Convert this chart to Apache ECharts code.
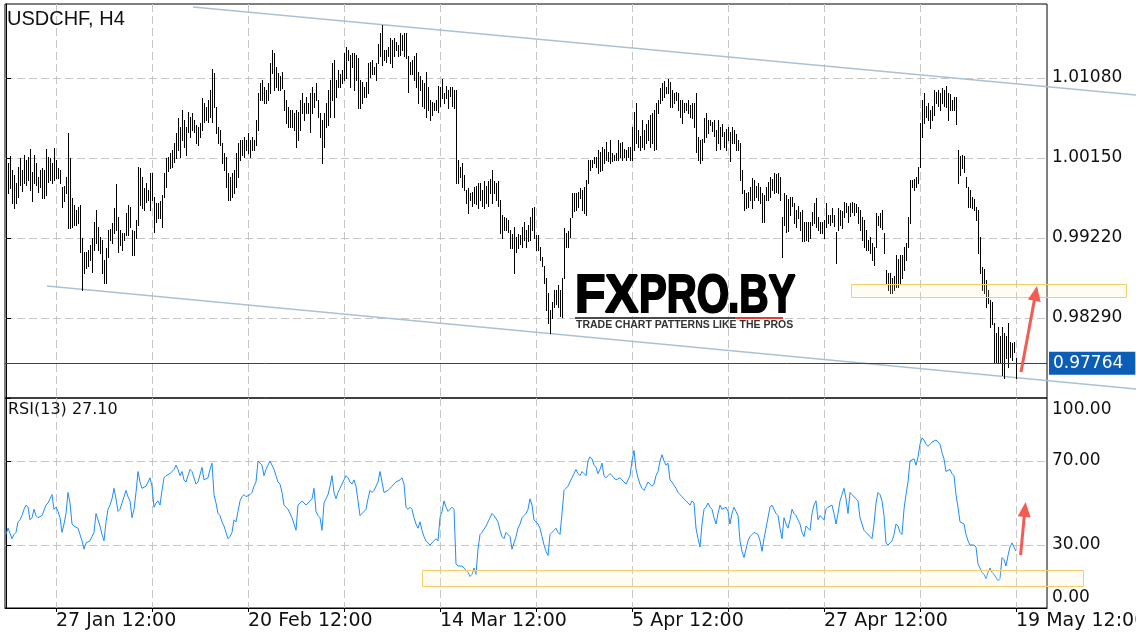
<!DOCTYPE html>
<html><head><meta charset="utf-8">
<script src="https://cdn.jsdelivr.net/npm/echarts@6/dist/echarts.min.js"></script>
<style>html,body{margin:0;padding:0;background:#fff}#c{width:1136px;height:640px}</style>
</head><body><div id="c"></div>
<script>
// ---------- data ----------
const symbolName = 'USDCHF, H4';
const rsiPeriod = 13;
// H4 bar highs / lows in pips (price * 10000)
const highPips = [
10007,10009,10017,10001,9995,9986,10005,10015,10001,10018,
10013,10016,10025,9999,10018,10009,9993,10001,10003,10001,
10025,10016,10015,10009,10027,10013,10003,10001,9981,9983,
9993,10044,10015,9968,9960,9955,9958,9960,9922,9906,
9906,9908,9914,9922,9941,9955,9935,9923,9920,9896,
9910,9931,9932,9939,9957,9985,9946,9931,9928,9928,
9951,9960,9958,9931,9930,9943,10005,10003,9993,9980,
9986,9978,9998,9998,9970,9963,9963,9965,9972,9998,
10015,10016,10021,10024,10032,10044,10061,10051,10071,10059,
10051,10068,10063,10067,10059,10053,10051,10056,10085,10079,
10074,10082,10094,10118,10114,10074,10051,10048,10032,10021,
10016,9998,9993,9998,10001,10021,10032,10036,10036,10039,
10036,10044,10036,10039,10036,10059,10091,10102,10106,10098,
10094,10102,10125,10141,10137,10121,10114,10110,10115,10094,
10082,10074,10071,10071,10067,10071,10068,10082,10091,10079,
10086,10079,10091,10098,10091,10102,10082,10067,10059,10067,
10079,10094,10106,10125,10129,10106,10117,10113,10117,10137,
10144,10141,10135,10137,10137,10135,10131,10106,10103,10098,
10103,10125,10127,10129,10121,10125,10148,10160,10170,10141,
10140,10144,10154,10152,10154,10150,10146,10160,10158,10160,
10160,10133,10127,10129,10133,10137,10115,10110,10106,10102,
10115,10098,10082,10080,10079,10082,10099,10098,10107,10091,
10099,10094,10098,10097,10094,10094,10013,10005,10009,9995,
9978,9980,9974,9975,9981,9983,9986,9986,9978,9988,
9983,9988,9990,10001,9988,9986,9988,9966,9949,9946,
9945,9943,9931,9927,9935,9923,9927,9925,9935,9941,
9931,9937,9946,9957,9958,9925,9925,9912,9900,9890,
9876,9858,9838,9848,9862,9862,9867,9862,9875,9934,
9928,9930,9945,9974,9974,9974,9975,9980,9978,9981,
9989,10013,10013,10013,10016,10016,10024,10022,10028,10026,
10034,10022,10036,10021,10019,10021,10036,10032,10034,10026,
10024,10028,10028,10051,10068,10079,10047,10041,10059,10047,
10055,10059,10065,10067,10071,10079,10082,10096,10102,10104,
10098,10107,10103,10094,10090,10092,10090,10082,10082,10079,
10079,10082,10077,10079,10079,10091,10039,10036,10037,10061,
10067,10059,10059,10057,10059,10047,10059,10051,10055,10045,
10049,10051,10045,10051,10047,10043,10036,10032,10001,9978,
9974,9975,9981,9992,9989,9983,9986,9981,9974,9972,
9981,9987,9993,9991,9998,9996,9998,9993,9946,9974,
9972,9967,9970,9970,9963,9955,9959,9952,9955,9941,
9941,9941,9941,9952,9963,9969,9946,9941,9941,9943,
9963,9949,9949,9957,9949,9929,9957,9955,9953,9964,
9963,9959,9963,9964,9963,9961,9958,9955,9946,9943,
9931,9920,9923,9916,9912,9951,9947,9951,9955,9928,
9885,9881,9881,9875,9878,9902,9897,9902,9902,9912,
9916,9946,9989,9989,9991,9993,10005,10056,10082,10091,
10075,10079,10071,10075,10094,10092,10094,10090,10096,10094,
10099,10091,10089,10082,10086,10086,10024,10017,10019,10017,
9993,9981,9978,9970,9967,9958,9955,9923,9888,9886,
9873,9862,9850,9848,9823,9812,9819,9808,9819,9812,
9808,9823,9801,9800,9801,9782];
const lowPips = [
9974,9974,9980,9963,9957,9963,9970,9984,9977,9986,
9984,9989,9978,9965,9986,9984,9976,9981,9968,9969,
9972,9987,9989,9986,9989,9992,9992,9986,9958,9965,
9974,9934,9934,9935,9937,9937,9940,9906,9862,9881,
9887,9889,9896,9882,9908,9916,9908,9905,9881,9870,
9870,9900,9920,9916,9928,9931,9906,9914,9908,9920,
9926,9926,9935,9902,9902,9922,9937,9960,9957,9955,
9964,9966,9955,9966,9929,9941,9945,9945,9935,9970,
9981,10000,10003,10005,10010,10015,10024,10016,10036,10028,
10019,10045,10039,10048,10045,10032,10030,10039,10048,10057,
10059,10057,10063,10057,10074,10044,10032,10030,10009,10001,
9981,9966,9966,9970,9974,9981,9993,10013,10019,10016,
10024,10021,10016,10024,10024,10030,10048,10082,10082,10079,
10079,10082,10091,10114,10094,10098,10094,10094,10096,10071,
10056,10051,10051,10051,10048,10028,10036,10048,10067,10059,
10067,10067,10045,10067,10074,10082,10063,10039,10009,10028,
10051,10053,10063,10082,10063,10086,10098,10098,10102,10106,
10108,10129,10098,10121,10094,10106,10073,10073,10079,10086,
10086,10091,10109,10113,10113,10106,10125,10133,10123,10129,
10127,10133,10125,10121,10133,10141,10133,10135,10141,10133,
10131,10092,10113,10113,10106,10098,10079,10094,10075,10073,
10063,10071,10059,10065,10071,10071,10069,10075,10085,10079,
10085,10073,10087,10075,10073,9986,9986,9993,9981,9978,
9963,9951,9966,9959,9963,9961,9957,9966,9959,9957,
9963,9959,9974,9963,9974,9966,9959,9928,9922,9931,
9931,9929,9910,9910,9881,9906,9910,9915,9912,9920,
9912,9918,9920,9931,9922,9908,9908,9896,9889,9870,
9838,9823,9812,9829,9842,9845,9842,9831,9830,9875,
9912,9912,9923,9946,9953,9955,9958,9968,9955,9951,
9949,9986,10001,10005,10009,10005,9998,10000,10001,10009,
10013,10011,10009,10011,10013,10013,10013,10016,10013,10016,
10013,10016,10013,10013,10024,10032,10028,10024,10028,10026,
10032,10036,10028,10032,10024,10026,10067,10079,10082,10086,
10091,10091,10074,10074,10079,10082,10071,10063,10056,10069,
10071,10067,10063,10061,10051,10022,10013,10009,10013,10034,
10039,10044,10053,10046,10041,10024,10032,10026,10041,10028,
10024,10036,10011,10032,10032,10024,10024,9989,9974,9955,
9957,9958,9966,9957,9966,9970,9966,9963,9941,9941,
9966,9966,9970,9978,9974,9976,9974,9966,9900,9937,
9929,9930,9949,9959,9939,9935,9945,9931,9918,9918,
9920,9918,9922,9937,9939,9935,9931,9928,9928,9922,
9935,9939,9937,9941,9936,9893,9931,9937,9934,9946,
9952,9941,9947,9952,9949,9952,9939,9931,9920,9912,
9908,9908,9905,9896,9891,9912,9937,9935,9932,9905,
9870,9862,9858,9858,9862,9865,9865,9868,9876,9885,
9896,9912,9939,9981,9978,9981,9986,10005,10039,10056,
10063,10059,10050,10059,10065,10079,10075,10071,10079,10075,
10074,10059,10071,10071,10071,10054,9986,9995,10003,9999,
9981,9958,9958,9957,9955,9943,9905,9881,9862,9858,
9842,9846,9819,9822,9777,9777,9777,9777,9763,9759,
9782,9772,9784,9780,9789,9759];
// RSI(13) per bar
const rsiValues = [
35,38,38,33,35,36,41,42,44,47,
49,48,42,43,47,44,43,43,44,44,
49,50,50,54,47,48,46,43,36,40,
45,55,50,40,39,39,38,35,32,28,
31,31,32,34,36,45,42,39,35,32,
41,47,49,52,57,52,46,47,50,53,
56,53,51,43,47,55,65,60,57,57,
58,60,62,58,48,50,51,49,56,62,
63,63,64,65,66,68,66,63,65,61,
60,63,66,65,62,59,60,60,67,61,
61,62,66,69,54,50,45,44,41,39,
36,33,34,36,42,41,46,51,53,54,
53,53,54,55,58,60,70,69,68,63,
66,68,70,68,66,63,60,59,55,49,
48,47,47,43,40,37,49,50,51,51,
49,50,51,52,57,46,44,43,37,50,
52,54,58,63,55,52,55,57,59,61,
63,62,60,59,61,58,51,44,45,46,
47,52,56,55,56,58,60,65,60,55,
55,56,57,58,59,60,60,61,62,59,
48,47,48,47,43,40,38,41,37,34,
32,31,30,31,32,33,32,43,46,51,
48,46,47,48,47,21,20,20,20,19,
18,17,15,16,19,16,28,35,36,36,
39,41,43,45,44,44,41,37,34,33,
36,35,34,28,31,34,38,40,43,44,
45,47,52,49,42,41,40,38,34,30,
27,25,35,36,37,38,36,35,45,56,
57,58,60,62,64,66,64,63,65,64,
63,70,72,71,68,67,64,66,69,63,
62,63,64,63,62,61,61,62,61,60,
59,61,63,70,75,66,62,59,57,56,
58,60,59,58,59,63,65,70,73,70,
68,69,61,60,60,57,55,54,53,52,
51,50,49,51,50,38,33,29,40,47,
48,50,48,47,43,40,45,49,47,47,
48,46,40,45,48,46,44,32,27,24,
28,32,34,35,36,36,35,32,27,33,
38,43,48,49,47,45,44,38,33,43,
40,38,42,47,45,44,44,40,36,34,
39,38,37,45,49,51,42,44,43,42,
47,48,48,49,45,40,45,51,54,57,
52,45,55,54,54,52,51,43,43,37,
36,36,34,33,40,50,55,54,51,44,
31,30,30,32,35,40,39,36,35,47,
54,60,70,70,71,68,72,78,81,80,
78,77,77,79,79,80,79,78,74,71,
65,65,66,64,63,54,48,41,41,40,
35,32,30,30,30,29,21,19,17,16,
14,17,19,17,16,16,13,14,24,23,
20,25,29,31,29,27.1];
const lastPrice = 0.97764;
// axes
const priceTicks = [0.98290, 0.99220, 1.00150, 1.01080];
const gridBars = [25, 73, 121, 169, 217, 265, 313, 361, 409, 457, 505];
const labelBars = [25, 121, 217, 313, 409, 505];
const timeLabels = ['27 Jan 12:00', '20 Feb 12:00', '14 Mar 12:00', '5 Apr 12:00', '27 Apr 12:00', '19 May 12:00'];
const rsiTicks = [0, 30, 70, 100];
const rsiLabelAt = [5.2, 30, 70, 94.3];
const rsiTickLabels = ['0.00', '30.00', '70.00', '100.00'];
// annotations in data coordinates [barIndex, value, barIndex, value]
const upperChannel = [93.5, 1.01905, 565, 1.00882];
const lowerChannel = [20.5, 0.98662, 565, 0.97465];
const priceZone = [422.5, 0.98685, 560, 0.98534];
const rsiZone = [208, 18.1, 538.5, 10.5];
const priceArrow = [507.5, 0.97662, 515.5, 0.98662];
const rsiArrow = [507.3, 25.2, 509.8, 50.5];

// ---------- chart ----------
const chart = echarts.init(document.getElementById('c'), null, {renderer: 'canvas'});
const bars = highPips.map((h, i) => [i, h / 10000, lowPips[i] / 10000]);
const rsiData = rsiValues.map((v, i) => [i, v]);
const gridLine = {show: true, lineStyle: {color: '#c6c6c6', width: 1, type: [8, 4]}};
const FONT = 'DejaVu Sans';

function barItem(params, api) {
  const t = api.coord([api.value(0), api.value(1)]);
  const b = api.coord([api.value(0), api.value(2)]);
  const x = Math.round(t[0]) + 0.5;
  return {type: 'line', shape: {x1: x, y1: Math.round(t[1]), x2: x, y2: Math.round(b[1]) + 1}, style: {stroke: '#000', lineWidth: 1}};
}
function segItem(params, api) {
  const a = api.coord([api.value(0), api.value(1)]);
  const b = api.coord([api.value(2), api.value(3)]);
  return {type: 'line', shape: {x1: a[0], y1: a[1], x2: b[0], y2: b[1]}, style: {stroke: '#a9c2d3', lineWidth: 1.5}};
}
function boxItem(params, api) {
  const a = api.coord([api.value(0), api.value(1)]);
  const b = api.coord([api.value(2), api.value(3)]);
  return {type: 'rect', shape: {x: Math.round(Math.min(a[0], b[0])) + 0.5, y: Math.round(Math.min(a[1], b[1])) + 0.5,
    width: Math.round(Math.abs(b[0] - a[0])), height: Math.round(Math.abs(b[1] - a[1]))},
    style: {fill: 'rgba(255,240,190,0.18)', stroke: '#f5cf6c', lineWidth: 1}};
}
function arrowItem(params, api) {
  const a = api.coord([api.value(0), api.value(1)]);
  const b = api.coord([api.value(2), api.value(3)]);
  const dx = b[0] - a[0], dy = b[1] - a[1], len = Math.hypot(dx, dy);
  const ux = dx / len, uy = dy / len, hl = 15, hw = 6.5;
  const base = [b[0] - ux * hl, b[1] - uy * hl];
  return {type: 'group', children: [
    {type: 'line', shape: {x1: a[0], y1: a[1], x2: base[0] + ux * 2, y2: base[1] + uy * 2}, style: {stroke: '#f45b52', lineWidth: 3, lineCap: 'butt'}},
    {type: 'polygon', shape: {points: [b, [base[0] - uy * hw, base[1] + ux * hw], [base[0] + uy * hw, base[1] - ux * hw]]}, style: {fill: '#f45b52'}}
  ]};
}

const darkGrad = () => new echarts.graphic.LinearGradient(0, 0, 0, 1, [
  {offset: 0, color: '#161616'}, {offset: 0.5, color: '#262626'}, {offset: 0.6, color: '#7c7c7c'}, {offset: 1, color: '#383838'}]);
const redGrad = () => new echarts.graphic.LinearGradient(0, 0, 0, 1, [
  {offset: 0, color: '#e3161c'}, {offset: 0.5, color: '#e8262a'}, {offset: 0.6, color: '#f58a8a'}, {offset: 1, color: '#e44848'}]);
function logoText(text, x, sx, grad) {
  return {type: 'text', x: x, y: 297.5, scaleX: sx, z: 10, silent: true,
    style: {text: text, fill: grad(), stroke: grad(), lineWidth: 2.2, fontSize: 54, fontWeight: 'bold', fontFamily: 'Liberation Sans',
      verticalAlign: 'middle', align: 'left'}};
}

const option = {
  animation: false,
  backgroundColor: '#fff',
  textStyle: {fontFamily: FONT},
  title: [
    {text: symbolName, left: 7, top: 9, padding: 0, textStyle: {fontFamily: 'Liberation Sans', fontSize: 20, fontWeight: 'normal', color: '#111'}},
    {text: 'RSI(' + rsiPeriod + ') ' + rsiValues[rsiValues.length - 1].toFixed(2), left: 8, top: 402, padding: 0,
      textStyle: {fontFamily: FONT, fontSize: 16, fontWeight: 'normal', color: '#111'}}
  ],
  grid: [
    {left: 5, right: 89, top: 4, height: 394, show: true, borderColor: '#000', borderWidth: 1, backgroundColor: 'transparent', containLabel: false, outerBoundsMode: 'none'},
    {left: 5, right: 89, top: 398, height: 210, show: true, borderColor: '#000', borderWidth: 1, backgroundColor: 'transparent', containLabel: false, outerBoundsMode: 'none'}
  ],
  xAxis: [
    {type: 'value', gridIndex: 0, min: -0.5, max: 520.5, axisLine: {show: false}, axisLabel: {show: false},
      axisTick: {show: false, customValues: gridBars}, splitLine: gridLine},
    {type: 'value', gridIndex: 1, min: -0.5, max: 520.5, axisLine: {show: true, lineStyle: {color: '#000'}},
      axisTick: {show: true, customValues: gridBars, length: 4, lineStyle: {color: '#000'}},
      axisLabel: {customValues: labelBars, formatter: v => timeLabels[labelBars.indexOf(v)], align: 'left', margin: 4,
        fontSize: 19, color: '#111', fontFamily: FONT},
      splitLine: gridLine}
  ],
  yAxis: [
    {type: 'value', gridIndex: 0, position: 'right', min: 0.9736, max: 1.0194,
      axisLine: {show: true, lineStyle: {color: '#000'}},
      axisTick: {show: true, customValues: priceTicks, length: 5, lineStyle: {color: '#000'}},
      axisLabel: {customValues: priceTicks, formatter: v => v.toFixed(5), fontSize: 17, color: '#111', margin: 5, fontFamily: FONT},
      splitLine: gridLine},
    {type: 'value', gridIndex: 1, position: 'right', min: 0, max: 100,
      axisLine: {show: true, lineStyle: {color: '#000'}},
      axisTick: {show: true, customValues: rsiTicks, length: 5, lineStyle: {color: '#000'}},
      axisLabel: {customValues: rsiLabelAt, formatter: v => rsiTickLabels[rsiLabelAt.indexOf(v)], fontSize: 17, color: '#111', margin: 5, fontFamily: FONT},
      splitLine: Object.assign({showMinLine: false, showMaxLine: false}, gridLine)}
  ],
  series: [
    {type: 'custom', name: 'channel', xAxisIndex: 0, yAxisIndex: 0, data: [upperChannel, lowerChannel], renderItem: segItem, clip: false, silent: true, z: 2,
      encode: {x: [0, 2], y: [1, 3]}},
    {type: 'custom', name: 'bars', xAxisIndex: 0, yAxisIndex: 0, data: bars, renderItem: barItem, encode: {x: 0, y: [1, 2]}, silent: true, clip: true, z: 3},
    {type: 'line', name: 'last', xAxisIndex: 0, yAxisIndex: 0, data: [[505, lastPrice]], symbol: 'none', silent: true, z: 2,
      lineStyle: {opacity: 0},
      markLine: {silent: true, symbol: 'none', animation: false, precision: 5,
        data: [{yAxis: lastPrice, lineStyle: {color: '#1a4a86', width: 1, type: 'solid'},
          label: {show: true, position: 'end', distance: 2, formatter: lastPrice.toFixed(5), color: '#fff', backgroundColor: '#0b5db5',
            padding: [3, 12, 3, 4], fontSize: 17, fontFamily: FONT}}]}},
    {type: 'custom', name: 'zone', xAxisIndex: 0, yAxisIndex: 0, data: [priceZone], renderItem: boxItem, clip: false, silent: true, z: 4,
      encode: {x: [0, 2], y: [1, 3]}},
    {type: 'custom', name: 'arrow', xAxisIndex: 0, yAxisIndex: 0, data: [priceArrow], renderItem: arrowItem, clip: false, silent: true, z: 5,
      encode: {x: [0, 2], y: [1, 3]}},
    {type: 'line', name: 'rsi', xAxisIndex: 1, yAxisIndex: 1, data: rsiData, symbol: 'none', silent: true, z: 3,
      lineStyle: {color: '#1e8cff', width: 1}},
    {type: 'custom', name: 'rsiZone', xAxisIndex: 1, yAxisIndex: 1, data: [rsiZone], renderItem: boxItem, clip: false, silent: true, z: 4,
      encode: {x: [0, 2], y: [1, 3]}},
    {type: 'custom', name: 'rsiArrow', xAxisIndex: 1, yAxisIndex: 1, data: [rsiArrow], renderItem: arrowItem, clip: false, silent: true, z: 5,
      encode: {x: [0, 2], y: [1, 3]}}
  ],
  graphic: [
    logoText('FX', 575, 0.92, darkGrad),
    logoText('PRO', 639, 0.77, redGrad),
    logoText('.BY', 728, 0.75, darkGrad),
    {type: 'line', z: 10, silent: true, shape: {x1: 575, y1: 318, x2: 735, y2: 318}, style: {stroke: '#4a4a4a', lineWidth: 2}},
    {type: 'line', z: 10, silent: true, shape: {x1: 735, y1: 318, x2: 783, y2: 318}, style: {stroke: '#e83838', lineWidth: 2}},
    {type: 'text', x: 576, y: 325.5, z: 10, silent: true, style: {text: 'TRADE CHART PATTERNS LIKE THE PROS', fontSize: 10.5, fontWeight: 'bold',
      fontFamily: 'Liberation Sans', fill: '#333', verticalAlign: 'middle', align: 'left'}}
  ]
};
chart.setOption(option);
</script>
</body></html>
